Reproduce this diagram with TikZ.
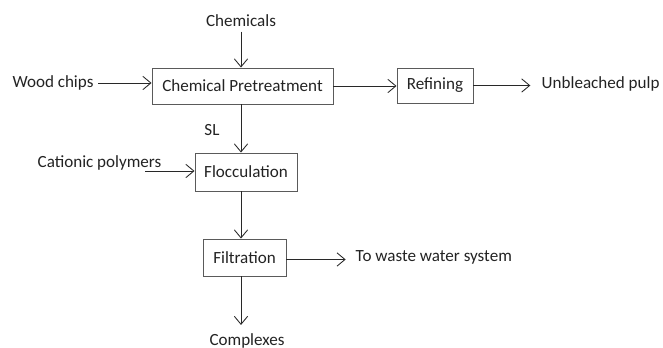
\documentclass[tikz,border=0pt]{standalone}
\usepackage{fontspec}
\setmainfont{Carlito}
\usepackage{xcolor}
\usepackage{tikz}
\usetikzlibrary{arrows.meta, calc, positioning}
\definecolor{linecol}{RGB}{40, 40, 40}
\definecolor{boxcol}{RGB}{90, 90, 90}
\definecolor{textcol}{RGB}{35, 35, 35}

\begin{document}
\begin{tikzpicture}[x=0.75pt, y=-0.75pt,
    every node/.style={font=\fontsize{12.8}{15}\selectfont, text=textcol},
    stage/.style={draw=boxcol, line width=0.7pt, inner sep=0pt},
    flow/.style={draw=linecol, line width=0.65pt,
                 -{Straight Barb[length=6pt, width=10pt, line width=0.65pt]}}]

  \useasboundingbox (0, 0) rectangle (663, 348);

  % Process boxes
  \node[stage, minimum width=181*0.75pt, minimum height=36*0.75pt] (pretreat) at (242.5, 86) {Chemical Pretreatment};
  \node[stage, minimum width=76*0.75pt,  minimum height=35*0.75pt] (refining) at (435, 85.5) {Refining};
  \node[stage, minimum width=102*0.75pt, minimum height=38*0.75pt] (floc)     at (246, 172) {Flocculation};
  \node[stage, minimum width=83*0.75pt,  minimum height=37*0.75pt] (filt)     at (244.5, 257.5) {Filtration};

  % Inputs and outputs
  \node (chem)    at (241, 21)  {Chemicals};
  \node (wood)    at (53, 83)   {Wood chips};
  \node (sl)      at (212, 130) {SL};
  \node (cat)     at (99.5, 163) {Cationic polymers};
  \node[anchor=west] (pulp)  at (537, 84)  {Unbleached pulp};
  \node[anchor=west] (waste) at (351, 257) {To waste water system};
  \node (complex) at (247, 341) {Complexes};

  \coordinate (catin) at (145, 171);

  % Main line
  \draw[flow] (chem.south) -- (chem.south |- pretreat.north);
  \draw[flow] (wood.east) -- (wood.east -| pretreat.west);
  \draw[flow] (pretreat.east) -- (pretreat.east -| refining.west);
  \draw[flow, shorten >=5pt] (refining.east) -- (refining.east -| pulp.west);

  % Liquor treatment
  \draw[flow] (chem.south |- pretreat.south) -- (chem.south |- floc.north);
  \draw[flow] (catin) -- (catin -| floc.west);
  \draw[flow] (chem.south |- floc.south) -- (chem.south |- filt.north);
  \draw[flow, shorten >=4pt] ([yshift=-1.5pt]filt.east) -- ([yshift=-1.5pt]filt.east -| waste.west);
  \draw[flow, shorten >=3pt] (chem.south |- filt.south) -- (chem.south |- complex.north);

\end{tikzpicture}
\end{document}
